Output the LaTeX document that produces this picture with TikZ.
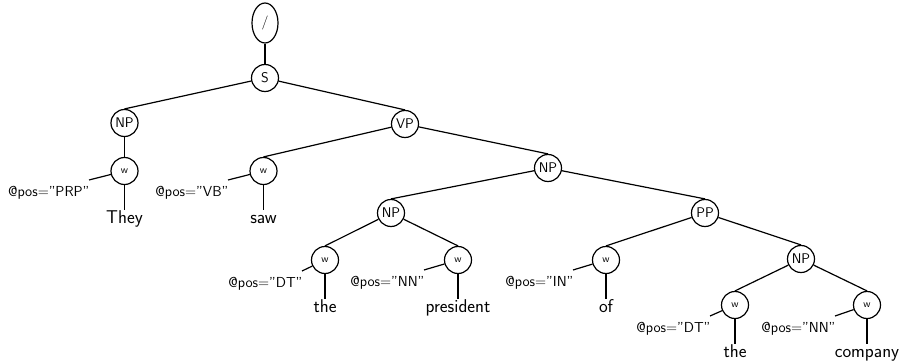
\documentclass[tikz,border=0pt]{standalone}
\usetikzlibrary{shapes.geometric}
\begin{document}
\begin{tikzpicture}[x=1pt,y=-1pt,line width=1.2pt,
  cat/.style={circle,draw,minimum size=27pt,inner sep=0pt,font=\sffamily\fontsize{14}{16}\selectfont},
  wnode/.style={circle,draw,minimum size=27pt,inner sep=0pt,font=\sffamily\fontsize{10.5}{12}\selectfont},
  attr/.style={anchor=north east,inner sep=0pt,text height=10pt,text depth=3pt,font=\sffamily\fontsize{14.5}{16}\selectfont},
  word/.style={anchor=north,inner sep=0pt,text height=13pt,text depth=4pt,font=\sffamily\fontsize{18.5}{21}\selectfont}]
\useasboundingbox (0,0) rectangle (902,364);
% nodes
\node[ellipse,draw,minimum width=26pt,minimum height=40pt,inner sep=0pt,font=\sffamily\fontsize{14}{16}\selectfont] (root) at (265,23) {/};
\node[cat] (s) at (265,78) {S};
\node[cat] (np1) at (124.5,123) {NP};
\node[cat] (vp) at (405,124) {VP};
\node[wnode] (w1) at (124.5,171) {w};
\node[wnode] (w2) at (263.5,171) {w};
\node[cat] (np2) at (548,168) {NP};
\node[cat] (np3) at (391,213) {NP};
\node[cat] (pp) at (705,213) {PP};
\node[wnode] (w3) at (325,260) {w};
\node[wnode] (w4) at (458,260) {w};
\node[wnode] (w5) at (606,260) {w};
\node[cat] (np4) at (801,259) {NP};
\node[wnode] (w6) at (735,305) {w};
\node[wnode] (w7) at (867,305) {w};
% attribute line ends
\coordinate (c1) at (89,180);
\coordinate (c2) at (228,180);
\coordinate (c3) at (302,271);
\coordinate (c4) at (424,270);
\coordinate (c5) at (573,270);
\coordinate (c6) at (710,316);
\coordinate (c7) at (835,316);
% attribute labels
\node[attr] (a1) at ([shift={(1,6)}]c1) {@pos="PRP"};
\node[attr] (a2) at ([shift={(1,6)}]c2) {@pos="VB"};
\node[attr] (a3) at ([shift={(1,6)}]c3) {@pos="DT"};
\node[attr] (a4) at ([shift={(1,6)}]c4) {@pos="NN"};
\node[attr] (a5) at ([shift={(1,6)}]c5) {@pos="IN"};
\node[attr] (a6) at ([shift={(1,6)}]c6) {@pos="DT"};
\node[attr] (a7) at ([shift={(1,6)}]c7) {@pos="NN"};
% words
\node[word] (t1) at (124.5,210) {They};
\node[word] (t2) at (263.5,210) {saw};
\node[word] (t3) at (325,299) {the};
\node[word] (t4) at (458,299) {president};
\node[word] (t5) at (606,299) {of};
\node[word] (t6) at (735,344) {the};
\node[word] (t7) at (867,344) {company};
% tree edges
\draw (root) -- (s);
\draw (s) -- (np1.north);
\draw (s) -- (vp.north);
\draw (np1) -- (w1.north);
\draw (vp) -- (w2.north);
\draw (vp) -- (np2.north);
\draw (np2) -- (np3.north);
\draw (np2) -- (pp.north);
\draw (np3) -- (w3.north);
\draw (np3) -- (w4.north);
\draw (pp) -- (w5.north);
\draw (pp) -- (np4.north);
\draw (np4) -- (w6.north);
\draw (np4) -- (w7.north);
% attribute and word edges
\foreach \i in {1,...,7} {
  \draw (w\i) -- (c\i);
  \draw (w\i.south) -- (t\i.north);
}
\end{tikzpicture}
\end{document}
